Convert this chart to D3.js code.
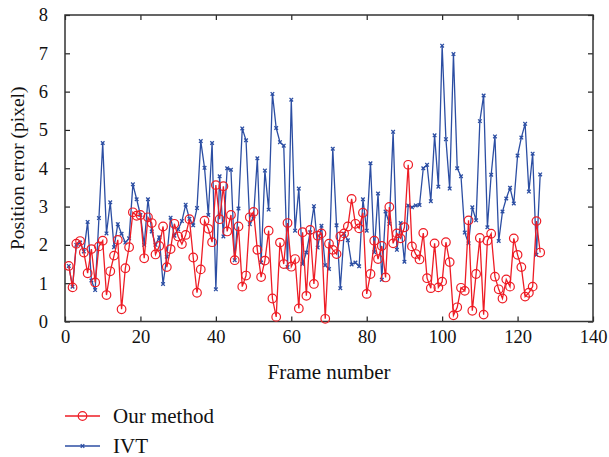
<!DOCTYPE html>
<meta charset="utf-8">
<style>
body { margin: 0; background: #fff; }
text { font-family: "Liberation Serif", "Times New Roman", serif; fill: #111; }
</style>
<div id="chart"></div>
<script src="https://d3js.org/d3.v7.min.js"></script>
<script>

// frame numbers
var frames = [1,2,3,4,5,6,7,8,9,10,11,12,13,14,15,16,17,18,19,20,
  21,22,23,24,25,26,27,28,29,30,31,32,33,34,35,36,37,38,39,40,
  41,42,43,44,45,46,47,48,49,50,51,52,53,54,55,56,57,58,59,60,
  61,62,63,64,65,66,67,68,69,70,71,72,73,74,75,76,77,78,79,80,
  81,82,83,84,85,86,87,88,89,90,91,92,93,94,95,96,97,98,99,100,
  101,102,103,104,105,106,107,108,109,110,111,112,113,114,115,116,117,118,119,120,
  121,122,123,124,125,126];

// position error, our method
var ourMethod = [1.45,0.89,2.03,2.10,1.80,1.26,1.89,1.02,1.96,2.11,
  0.69,1.31,1.72,2.13,0.32,1.39,1.94,2.85,2.76,2.78,
  1.65,2.72,2.57,1.75,1.97,2.48,1.42,1.89,2.55,2.22,
  2.02,2.26,2.67,1.67,0.75,1.36,2.63,2.42,2.07,3.56,
  2.67,3.53,2.35,2.78,1.60,2.48,0.91,1.20,2.72,2.86,
  1.87,1.16,1.59,2.37,0.60,0.12,2.06,1.50,2.57,1.43,
  1.63,0.34,2.33,0.67,2.39,0.98,2.24,2.30,0.07,2.03,
  1.87,1.76,2.22,2.30,2.48,3.20,2.55,2.43,2.84,0.72,
  1.24,2.11,1.63,1.97,1.15,2.99,2.04,2.30,2.17,2.46,
  4.09,1.96,1.76,1.62,2.31,1.13,0.87,2.04,0.89,1.04,
  2.07,1.55,0.16,0.37,0.88,0.80,2.64,0.28,1.24,2.18,
  0.18,2.11,2.29,1.17,0.84,0.60,1.10,0.91,2.17,1.74,
  1.42,0.65,0.75,0.91,2.62,1.80];

// position error, IVT
var ivt = [1.45,0.91,2.00,2.06,1.83,2.60,1.07,0.82,2.70,4.66,
  2.30,3.11,1.94,2.54,2.29,2.06,2.17,3.58,3.19,2.78,
  2.00,3.19,2.35,2.00,2.20,0.98,1.69,2.71,2.24,2.41,
  2.62,3.05,2.68,2.51,2.96,4.71,4.01,2.78,4.66,0.84,
  3.79,2.22,4.00,3.96,1.60,2.95,5.04,4.73,2.54,2.74,
  4.26,1.54,3.94,2.92,5.94,5.05,4.68,4.59,1.42,5.79,
  2.37,3.47,1.50,1.80,2.33,3.01,1.93,2.50,1.47,1.37,
  4.51,2.51,0.87,2.29,2.12,1.49,1.54,1.44,3.19,2.37,
  4.13,1.81,3.34,1.09,2.87,2.55,4.95,1.87,2.57,1.56,
  3.03,2.98,3.03,3.04,4.00,4.09,3.14,4.86,3.52,7.20,
  4.76,3.47,6.98,4.00,3.79,2.32,2.04,2.98,2.64,5.23,
  5.90,2.46,3.83,4.83,2.10,2.87,3.21,3.49,3.08,4.33,
  4.80,5.16,3.39,4.38,1.74,3.84];

var xTicks = [0,20,40,60,80,100,120,140];
var yTicks = [0,1,2,3,4,5,6,7,8];
var seriesNames = ["Our method", "IVT"];

var red = "#ee1c25", blue = "#2c4ea3";

var W = 609, H = 457;
var margin = {top: 15, right: 16, bottom: 135.5, left: 65},
    width = W - margin.left - margin.right,
    height = H - margin.top - margin.bottom;

var svg = d3.select("#chart").append("svg")
    .attr("width", W)
    .attr("height", H);

var g = svg.append("g")
    .attr("transform", "translate(" + margin.left + "," + margin.top + ")");

var x = d3.scaleLinear().domain([0, 140]).range([0, width]);
var y = d3.scaleLinear().domain([0, 8]).range([height, 0]);

// axes, ticks pointing inwards
var xAxis = g.append("g")
  .attr("transform", "translate(0," + height + ")")
  .call(d3.axisBottom(x).tickValues(xTicks).tickSize(-5).tickSizeOuter(0).tickPadding(8));
var xTop = g.append("g")
  .call(d3.axisTop(x).tickValues(xTicks).tickSize(-5).tickSizeOuter(0).tickFormat(""));
var yAxis = g.append("g")
  .call(d3.axisLeft(y).tickValues(yTicks).tickSize(-5).tickSizeOuter(0).tickPadding(17));
var yRight = g.append("g")
  .attr("transform", "translate(" + width + ",0)")
  .call(d3.axisRight(y).tickValues(yTicks).tickSize(-5).tickSizeOuter(0).tickFormat(""));

[xAxis, xTop, yAxis, yRight].forEach(function(a) {
  a.select(".domain").remove();
  a.selectAll("line").attr("stroke", "#222").attr("stroke-width", 1.2);
  a.selectAll("text").style("font-family", "Liberation Serif").style("font-size", "18.5px").attr("fill", "#111");
});

// frame
g.append("rect")
  .attr("width", width)
  .attr("height", height)
  .attr("fill", "none")
  .attr("stroke", "#333")
  .attr("stroke-width", 1.5);

var line = d3.line()
  .x(function(d, i) { return x(frames[i]); })
  .y(function(d) { return y(d); });

// IVT line (drawn first, red on top)
g.append("path")
  .datum(ivt)
  .attr("d", line)
  .attr("fill", "none")
  .attr("stroke", blue)
  .attr("stroke-width", 1.3);

var cross = d3.symbol().type(d3.symbolX).size(10);
g.selectAll(".ivtpt")
  .data(ivt)
  .enter().append("path")
  .attr("d", cross)
  .attr("transform", function(d, i) { return "translate(" + x(frames[i]) + "," + y(d) + ")"; })
  .attr("fill", "none")
  .attr("stroke", blue)
  .attr("stroke-width", 1.3);

g.append("path")
  .datum(ourMethod)
  .attr("d", line)
  .attr("fill", "none")
  .attr("stroke", red)
  .attr("stroke-width", 1.3);

g.selectAll(".ourpt")
  .data(ourMethod)
  .enter().append("circle")
  .attr("cx", function(d, i) { return x(frames[i]); })
  .attr("cy", function(d) { return y(d); })
  .attr("r", 4.3)
  .attr("fill", "none")
  .attr("stroke", red)
  .attr("stroke-width", 1.2);

// axis titles
svg.append("text")
  .attr("x", margin.left + width / 2)
  .attr("y", 379)
  .attr("text-anchor", "middle")
  .style("font-size", "21px")
  .text("Frame number");

svg.append("text")
  .attr("transform", "translate(24," + (margin.top + height / 2) + ")rotate(-90)")
  .attr("text-anchor", "middle")
  .style("font-size", "19.5px")
  .text("Position error (pixel)");

// legend
var legend = svg.selectAll(".legend")
  .data(seriesNames)
  .enter().append("g")
  .attr("transform", function(d, i) { return "translate(65," + (416 + i * 30) + ")"; });

legend.append("line")
  .attr("x1", 0).attr("x2", 35)
  .attr("stroke", function(d, i) { return i == 0 ? red : blue; })
  .attr("stroke-width", 1.3);

legend.filter(function(d, i) { return i == 0; }).append("circle")
  .attr("cx", 17.5).attr("r", 4.3)
  .attr("fill", "none").attr("stroke", red).attr("stroke-width", 1.2);

legend.filter(function(d, i) { return i == 1; }).append("path")
  .attr("d", cross)
  .attr("transform", "translate(17.5,0)")
  .attr("fill", "none").attr("stroke", blue).attr("stroke-width", 1.3);

legend.append("text")
  .attr("x", 48)
  .attr("y", 7)
  .style("font-size", "21px")
  .text(function(d) { return d; });

</script>
